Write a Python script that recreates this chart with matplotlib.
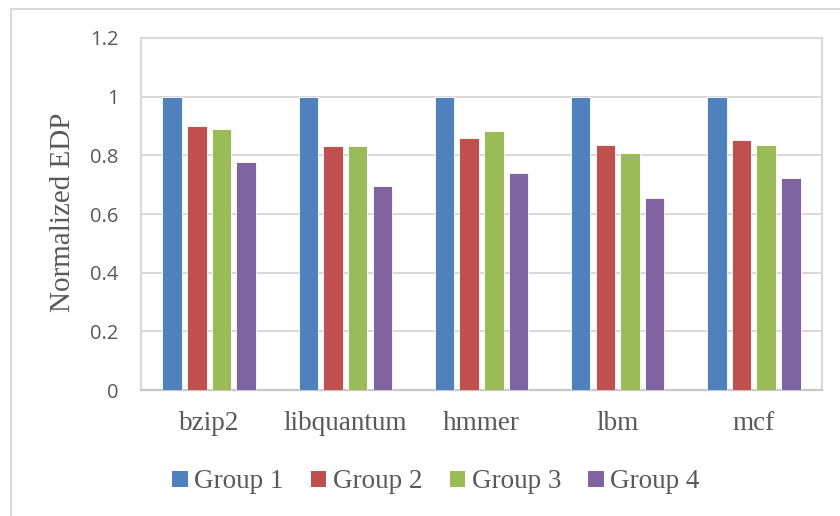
import numpy as np
import matplotlib
matplotlib.use('Agg')
import matplotlib.pyplot as plt
from matplotlib.patches import Patch, Rectangle

benchmarks = ['bzip2', 'libquantum', 'hmmer', 'lbm', 'mcf']
groups = ['Group 1', 'Group 2', 'Group 3', 'Group 4']
group1 = [1.0, 1.0, 1.0, 1.0, 1.0]
group2 = [0.899, 0.831, 0.858, 0.834, 0.851]
group3 = [0.889, 0.833, 0.882, 0.808, 0.834]
group4 = [0.776, 0.694, 0.740, 0.656, 0.722]
yticks = [0, 0.2, 0.4, 0.6, 0.8, 1, 1.2]
ytick_labels = ['0', '0.2', '0.4', '0.6', '0.8', '1', '1.2']

colors = ['#4F81BD', '#C0504D', '#9BBB59', '#8064A2']
grid_c = '#D9D9D9'
text_c = '#595959'
serif = 'Liberation Serif'
sans = 'Open Sans'

fig = plt.figure(figsize=(8.4, 5.16), dpi=100)
ax = fig.add_axes([141/840, 1 - 390/516, 681/840, 352/516])

x = np.arange(len(benchmarks))
step = 0.181
width = 0.143
for i, vals in enumerate([group1, group2, group3, group4]):
    ax.bar(x + (i - 1.5) * step, vals, width, color=colors[i],
           edgecolor='white', linewidth=0.6, zorder=3)

ax.set_xlim(-0.5, len(benchmarks) - 0.5)
ax.set_ylim(0, 1.2)
ax.set_yticks(yticks)
ax.set_yticklabels(ytick_labels, fontfamily=sans, fontsize=14.5, color=text_c)
ax.set_xticks(x)
ax.set_xticklabels(benchmarks, fontfamily=serif, fontsize=19.5, color=text_c)
ax.tick_params(axis='both', length=0)
ax.tick_params(axis='y', pad=16)
ax.tick_params(axis='x', pad=15)

for yv in yticks[1:-1]:
    ax.axhline(yv, color=grid_c, lw=1.5, zorder=1)
for side in ['left', 'right', 'top', 'bottom']:
    ax.spines[side].set_linestyle((0, (1, 1)))
    ax.spines[side].set_color(grid_c)
    ax.spines[side].set_linewidth(1.6)
ax.spines['bottom'].set_color('#C8C8C8')

fig.text(63/840, 1 - 212/516, 'Normalized EDP', rotation=90, ha='center',
         va='center', fontfamily=serif, fontsize=21, color=text_c)

handles = [Patch(facecolor=c, edgecolor='none') for c in colors]
leg = fig.legend(handles, groups, loc='center', bbox_to_anchor=(436/840, 1 - 482/516),
                 ncol=4, frameon=False, handlelength=0.57, handleheight=0.57,
                 handletextpad=0.25, columnspacing=1.0,
                 prop={'family': serif, 'size': 19.5})
for t in leg.get_texts():
    t.set_color(text_c)

# chart area border
fig.patches.append(Rectangle((11/840, -0.1), 1.2, (516 - 9)/516 + 0.1,
                             transform=fig.transFigure, fill=False,
                             edgecolor=grid_c, lw=1.5))

fig.savefig('out.png', dpi=100)
